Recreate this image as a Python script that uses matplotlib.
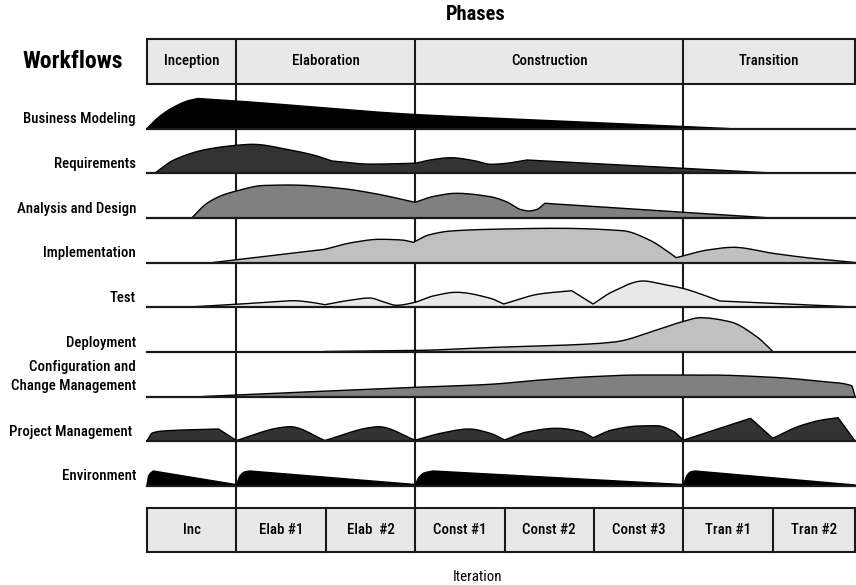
#!/usr/bin/env python

""" RUP 'hump' chart: effort per workflow across phases and iterations. """

import numpy as np
import matplotlib
matplotlib.use("Agg")
import matplotlib.pyplot as plt
from matplotlib import font_manager
from matplotlib.patches import Rectangle

# condensed sans like the original Helvetica Condensed, if we have one
_installed = {f.name for f in font_manager.fontManager.ttflist}
_narrow = [n for n in ["Roboto Condensed", "Archivo Narrow", "PT Sans Narrow",
                       "Liberation Sans Narrow", "Open Sans Condensed",
                       "Pragati Narrow", "Roboto"] if n in _installed]
plt.rcParams["font.family"] = _narrow[:1] + ["DejaVu Sans"]

# ---- data -------------------------------------------------------------
phases = ["Inception", "Elaboration", "Construction", "Transition"]
phase_bounds = [0, 1, 3, 6, 7.92]          # in iterations
iterations = ["Inc", "Elab #1", "Elab  #2", "Const #1", "Const #2",
              "Const #3", "Tran #1", "Tran #2"]
iter_bounds = [0, 1, 2, 3, 4, 5, 6, 7, 7.92]

workflows = ["Business Modeling", "Requirements", "Analysis and Design",
             "Implementation", "Test", "Deployment",
             "Configuration and\nChange Management", "Project Management",
             "Environment"]

# each workflow: list of smooth pieces of (iteration, effort) points,
# a corner sits wherever one piece meets the next
business_modeling = [
    [(0, 0), (0.1, 9), (0.2, 16), (0.3, 21.5), (0.45, 27.5), (0.57, 30)],
    [(0.57, 30), (1.0, 27.5), (3.0, 14), (3.84, 10.5), (6.5, 0)],
]
requirements = [
    [(0.09, 0), (0.3, 13), (0.67, 23.7), (1.0, 27.7), (1.18, 28.7), (1.6, 23),
     (1.86, 18), (2.07, 12)],
    [(2.07, 12), (2.5, 8.9), (3.0, 9.7)],
    [(3.0, 9.7), (3.2, 13.5), (3.4, 15.3), (3.65, 12.5), (3.85, 8.7),
     (4.0, 9.5), (4.25, 13)],
    [(4.25, 13), (6.0, 4.7), (6.99, 0)],
]
analysis_design = [
    [(0.5, 0), (0.67, 14.7), (0.85, 23), (1.0, 27), (1.3, 32.5), (1.6, 33),
     (2.16, 29.7), (2.53, 24.7), (3.0, 15.7)],
    [(3.0, 15.7), (3.2, 21.5), (3.46, 24.7), (3.84, 21.3), (4.02, 16.3),
     (4.18, 8.5), (4.27, 7), (4.36, 8.5), (4.45, 14.7)],
    [(4.45, 14.7), (6.0, 5.7), (6.99, 0)],
]
implementation = [
    [(0.74, 0), (1.99, 13.2)],
    [(1.99, 13.2), (2.3, 20), (2.6, 23.2), (2.85, 22.5), (2.98, 20.2)],
    [(2.98, 20.2), (3.15, 27.5), (3.4, 31.5), (3.84, 33.2), (4.58, 34.2),
     (5.32, 31.8), (5.62, 22.5), (5.8, 12.5), (5.92, 4.8)],
    [(5.92, 4.8), (6.27, 12.5), (6.56, 15.2), (7.0, 9.2), (7.38, 4.8),
     (7.92, 0)],
]
test = [
    [(0.48, 0), (1.0, 2.7), (1.3, 4.5), (1.64, 6.3), (1.85, 4.5), (1.99, 2.3)],
    [(1.99, 2.3), (2.25, 6.5), (2.49, 9), (2.65, 5), (2.79, 1.7), (2.98, 4.3),
     (3.2, 11), (3.46, 14.7), (3.84, 8.7), (3.99, 3)],
    [(3.99, 3), (4.39, 13), (4.75, 16.3)],
    [(4.75, 16.3), (4.99, 3)],
    [(4.99, 3), (5.2, 15), (5.55, 26), (5.77, 22.7), (5.99, 18.7), (6.41, 6)],
    [(6.41, 6), (7.92, 0)],
]
deployment = [
    [(1.99, 0), (3.0, 1), (3.84, 4), (4.95, 7.5), (5.25, 9.8), (5.7, 21.5),
     (5.99, 29.8), (6.19, 33.8), (6.52, 29.8), (6.82, 14.8), (7.0, 0)],
]
config_change = [
    [(0.63, 0), (1.0, 1.5), (3.0, 9.2), (3.84, 12.2), (4.4, 16.5),
     (4.96, 19.8), (5.51, 21.5), (6.26, 21.5), (7.0, 19.2), (7.57, 14.8),
     (7.88, 10.8), (7.92, 0)],
]
project_mgmt = [
    [(0, 0), (0.06, 8), (0.18, 10), (0.8, 12)],
    [(0.8, 12), (1.0, 0.5)],
    [(1.0, 0.5), (1.5, 13.5), (1.6, 14.3), (1.99, 0.5)],
    [(1.99, 0.5), (2.5, 13.5), (2.59, 14.3), (3.0, 0.8)],
    [(3.0, 0.8), (3.3, 8), (3.6, 12), (3.84, 7.7), (4.0, 1)],
    [(4.0, 1), (4.25, 9), (4.58, 12.7), (4.85, 9.5), (4.99, 3.3)],
    [(4.99, 3.3), (5.2, 11), (5.5, 15), (5.7, 15.3), (5.88, 10), (6.0, 0.8)],
    [(6.0, 0.8), (6.75, 22.7)],
    [(6.75, 22.7), (7.0, 2.7)],
    [(7.0, 2.7), (7.3, 15), (7.55, 21), (7.73, 23.3)],
    [(7.73, 23.3), (7.92, 0)],
]
environment = [
    [(0, 0), (0.02, 10), (0.07, 14.5)],
    [(0.07, 14.5), (0.99, 1)],
    [(1.0, 0), (1.04, 9.5), (1.09, 13.5), (1.15, 14.5)],
    [(1.15, 14.5), (3.0, 1)],
    [(3.0, 0), (3.04, 8), (3.1, 12.5), (3.2, 14.5)],
    [(3.2, 14.5), (5.99, 1)],
    [(6.0, 0), (6.04, 10), (6.08, 13.5), (6.13, 14.5)],
    [(6.13, 14.5), (7.92, 0.5)],
]

profiles = [business_modeling, requirements, analysis_design, implementation,
            test, deployment, config_change, project_mgmt, environment]
fills = ["#000000", "#333333", "#808080", "#c0c0c0", "#e8e8e8",
         "#c0c0c0", "#808080", "#333333", "#000000"]

# ---- layout (pixels on a 856x585 canvas) ------------------------------
X0, ITER_W = 147, 89.4
baselines = [128.5, 173, 218, 262.5, 307, 351.5, 396.5, 441, 485.5]
LINE = "#1a1a1a"


def col(px):
    """ pixel column -> iteration units """
    return (px - X0) / ITER_W


def pchip(xs, ys, n=30):
    """ monotone cubic through the points (Fritsch-Carlson) """
    xs = np.asarray(xs, float)
    ys = np.asarray(ys, float)
    if len(xs) == 2:
        return xs, ys
    h = np.diff(xs)
    d = np.diff(ys) / h
    m = np.zeros_like(xs)
    m[0], m[-1] = d[0], d[-1]
    for k in range(1, len(xs) - 1):
        if d[k - 1] * d[k] <= 0:
            m[k] = 0
        else:
            w1 = 2 * h[k] + h[k - 1]
            w2 = h[k] + 2 * h[k - 1]
            m[k] = (w1 + w2) / (w1 / d[k - 1] + w2 / d[k])
    out_x, out_y = [], []
    for k in range(len(xs) - 1):
        s = np.linspace(0, 1, n)
        h00 = 2 * s**3 - 3 * s**2 + 1
        h10 = s**3 - 2 * s**2 + s
        h01 = -2 * s**3 + 3 * s**2
        h11 = s**3 - s**2
        y = (h00 * ys[k] + h10 * h[k] * m[k] + h01 * ys[k + 1]
             + h11 * h[k] * m[k + 1])
        out_x.append(xs[k] + s * h[k])
        out_y.append(y)
    return np.concatenate(out_x), np.concatenate(out_y)


def profile_curve(pieces):
    xs, ys = [], []
    for piece in pieces:
        px, py = zip(*piece)
        cx, cy = pchip(px, py)
        xs.append(cx)
        ys.append(cy)
    return np.concatenate(xs), np.concatenate(ys)


fig = plt.figure(figsize=(8.56, 5.85), dpi=100)
ax = fig.add_axes([0, 0, 1, 1])
ax.set_xlim(col(0), col(856))
ax.set_ylim(585, 0)
ax.axis("off")

# scale the label size so "Business Modeling" is ~113 px wide as in the original
renderer = fig.canvas.get_renderer()
probe = ax.text(0, 0, "Business Modeling", fontsize=11, fontweight="medium")
scale = min(1.15, 113 / probe.get_window_extent(renderer).width)
probe.remove()
FS = 11 * scale

end = phase_bounds[-1]

# header
ax.text(col(476), 14, "Phases", ha="center", va="center", fontsize=15 * scale,
        fontweight="bold")
ax.text(col(73), 62, "Workflows", ha="center", va="center",
        fontsize=17.5 * scale, fontweight="bold")
ax.add_patch(Rectangle((0, 38.5), end, 45, facecolor="#e8e8e8",
                       edgecolor=LINE, lw=1.5, zorder=2))
for i, name in enumerate(phases):
    a, b = phase_bounds[i], phase_bounds[i + 1]
    if i > 0:
        ax.plot([a, a], [38.5, 83.5], color=LINE, lw=1.5, zorder=3)
    ax.text((a + b) / 2, 61, name, ha="center", va="center", fontsize=FS,
            fontweight="medium")

# phase dividers through the body
for b in phase_bounds[1:-1]:
    ax.plot([b, b], [83.5, 508], color=LINE, lw=1.5, zorder=1)

# workflows
for name, pieces, base, color in zip(workflows, profiles, baselines, fills):
    x, h = profile_curve(pieces)
    ax.fill_between(x, base, base - h, facecolor=color, edgecolor="none",
                    zorder=2)
    ax.plot(x, base - h, color="#000000", lw=1.0, zorder=3)
    ax.plot([0, end], [base, base], color=LINE, lw=1.6, zorder=4)
    ty = base - 9 if "\n" not in name else base - 20
    tx = col(132) if name.startswith("Project") else col(136)
    ax.text(tx, ty, name, ha="right", va="center", fontsize=FS,
            fontweight="medium", linespacing=1.45)

# iteration row
ax.add_patch(Rectangle((0, 508), end, 44, facecolor="#e8e8e8",
                       edgecolor=LINE, lw=1.5, zorder=2))
for i, name in enumerate(iterations):
    a, b = iter_bounds[i], iter_bounds[i + 1]
    if i > 0:
        ax.plot([a, a], [508, 552], color=LINE, lw=1.5, zorder=3)
    ax.text((a + b) / 2, 530, name, ha="center", va="center", fontsize=FS,
            fontweight="medium")
ax.text(col(477), 577, "Iteration", ha="center", va="center",
        fontsize=FS, fontweight="normal")

fig.savefig("out.png", dpi=100)
